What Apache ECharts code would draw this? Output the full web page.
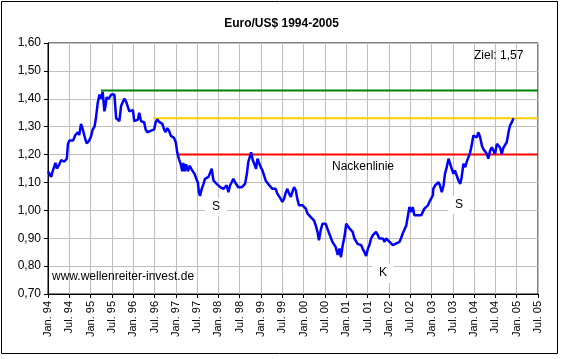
<!DOCTYPE html>
<html><head><meta charset="utf-8">
<script src="https://cdn.jsdelivr.net/npm/echarts@6/dist/echarts.min.js"></script>
<style>html,body{margin:0;padding:0;background:#fff}#c{width:563px;height:359px}</style>
</head><body><div id="c"></div>
<script>
// months since Jan 1994
var months = [0,0.9,1.3,2.1,2.5,3.2,3.7,4.1,4.6,5.3,5.6,6.0,6.5,7.0,7.4,7.7,8.4,8.8,9.3,9.8,10.5,10.9,11.6,12.1,12.6,13.1,13.5,14.0,14.5,14.9,15.4,15.9,16.2,16.5,17.1,17.8,18.2,18.7,19.2,19.6,20.1,20.6,21.0,21.5,22.0,22.4,22.9,23.4,23.9,24.3,24.8,25.3,25.7,26.2,26.7,27.1,27.5,28.0,28.5,28.9,29.4,29.9,30.3,30.8,31.3,31.7,32.2,32.7,33.1,33.6,34.1,34.6,35.0,35.5,36.0,36.4,36.9,37.4,37.8,38.1,38.5,38.9,39.4,39.9,40.4,40.8,41.3,41.8,42.2,42.5,42.8,43.3,43.8,44.2,44.7,45.2,45.6,46.1,46.6,47.0,47.5,48.0,48.5,48.9,49.4,49.9,50.3,50.8,51.3,51.7,52.2,52.7,53.2,53.6,54.1,54.6,55.0,55.5,56.0,56.4,56.9,57.2,57.7,58.1,58.6,59.0,59.4,59.9,60.4,60.9,61.3,61.8,62.3,62.7,63.2,63.7,64.1,64.6,65.1,65.5,66.0,66.5,67.0,67.4,67.9,68.4,68.8,69.3,69.8,70.2,70.7,71.2,71.7,72.1,72.6,73.1,73.5,74.0,74.5,74.9,75.4,75.9,76.3,76.8,77.3,77.8,78.2,78.7,79.2,79.6,80.1,80.6,81.0,81.6,82.1,82.5,83.0,83.5,84.0,84.4,84.9,85.4,85.8,86.3,86.8,87.2,87.7,88.2,88.6,89.1,89.6,90.1,90.5,91.0,91.5,91.9,92.4,92.9,93.3,93.8,94.3,94.8,95.2,95.7,96.2,96.6,97.1,97.6,98.0,98.5,99.0,99.4,99.9,100.4,100.9,101.3,101.8,102.3,102.7,103.2,103.7,104.1,104.6,105.1,105.5,106.0,106.5,107.0,107.4,107.9,108.4,108.5,109.0,109.5,110.0,110.4,110.9,111.4,111.8,112.3,112.8,113.2,113.7,114.2,114.6,115.1,115.6,116.1,116.5,117.0,117.5,117.9,118.4,118.9,119.3,119.8,120.3,120.8,121.2,121.7,122.2,122.6,123.1,123.6,124.0,124.5,125.0,125.4,125.9,126.4,126.9,127.3,127.8,128.3,128.7,129.2,129.7,130.1,130.6,131.1];
var eurusd = [1.14,1.12,1.14,1.17,1.15,1.165,1.18,1.18,1.175,1.185,1.237,1.25,1.255,1.25,1.26,1.27,1.28,1.27,1.31,1.29,1.255,1.24,1.25,1.265,1.29,1.30,1.33,1.385,1.415,1.40,1.425,1.355,1.375,1.405,1.40,1.415,1.42,1.415,1.33,1.325,1.32,1.375,1.38,1.40,1.39,1.385,1.355,1.36,1.36,1.32,1.315,1.325,1.35,1.32,1.325,1.315,1.29,1.28,1.275,1.285,1.29,1.29,1.315,1.326,1.317,1.32,1.31,1.29,1.28,1.295,1.285,1.267,1.267,1.26,1.243,1.207,1.183,1.165,1.14,1.17,1.14,1.165,1.14,1.16,1.148,1.153,1.13,1.112,1.10,1.064,1.052,1.077,1.095,1.113,1.113,1.12,1.125,1.149,1.107,1.113,1.095,1.095,1.083,1.083,1.077,1.083,1.09,1.065,1.09,1.10,1.113,1.10,1.095,1.083,1.09,1.083,1.09,1.095,1.13,1.173,1.179,1.208,1.179,1.167,1.149,1.185,1.179,1.155,1.143,1.137,1.107,1.10,1.09,1.083,1.077,1.071,1.077,1.06,1.053,1.042,1.03,1.042,1.065,1.077,1.06,1.048,1.065,1.083,1.071,1.042,1.018,1.012,1.018,1.024,1.006,0.988,0.982,0.976,0.97,0.964,0.946,0.923,0.893,0.929,0.952,0.958,0.952,0.934,0.917,0.911,0.887,0.881,0.869,0.84,0.863,0.832,0.875,0.905,0.952,0.958,0.935,0.94,0.923,0.899,0.893,0.88,0.887,0.875,0.863,0.851,0.836,0.863,0.875,0.899,0.911,0.911,0.923,0.911,0.899,0.905,0.899,0.887,0.899,0.899,0.887,0.881,0.875,0.875,0.881,0.881,0.887,0.899,0.917,0.923,0.946,0.976,1.012,0.994,1.012,0.982,0.982,0.982,0.988,0.982,0.988,1.006,1.012,1.018,1.03,1.042,1.054,1.077,1.089,1.095,1.101,1.089,1.065,1.089,1.131,1.155,1.185,1.179,1.149,1.131,1.143,1.125,1.107,1.095,1.119,1.167,1.155,1.173,1.179,1.208,1.232,1.268,1.274,1.262,1.28,1.262,1.232,1.22,1.214,1.202,1.185,1.214,1.226,1.226,1.202,1.238,1.238,1.226,1.202,1.226,1.232,1.244,1.28,1.304,1.315,1.33];
var tickLabels = ["Jan. 94","Jul. 94","Jan. 95","Jul. 95","Jan. 96","Jul. 96","Jan. 97","Jul. 97","Jan. 98","Jul. 98","Jan. 99","Jul. 99","Jan. 00","Jul. 00","Jan. 01","Jul. 01","Jan. 02","Jul. 02","Jan. 03","Jul. 03","Jan. 04","Jul. 04","Jan. 05","Jul. 05"];
var levelValues = [1.43, 1.33, 1.20];
var levelStarts = [14.9, 29.6, 36.9];
var levelColors = ['#008000', '#FFCC00', '#FF0000'];
var xMax = 138;

var chart = echarts.init(document.getElementById('c'), null, {renderer: 'canvas'});
var FONT = 'Liberation Sans';
var series = [];
for (var i = 0; i < levelValues.length; i++) {
  series.push({type: 'line', data: [[levelStarts[i], levelValues[i]], [xMax, levelValues[i]]],
    showSymbol: false, silent: true, lineStyle: {color: levelColors[i], width: 2}, z: 3});
}
series.push({type: 'line', data: months.map(function (m, k) { return [m, eurusd[k]]; }),
  showSymbol: false, lineStyle: {color: '#0000FF', width: 2.5}, z: 4});

chart.setOption({
  animation: false,
  backgroundColor: '#fff',
  title: {text: 'Euro/US$ 1994-2005', left: 'center', top: 13,
    textStyle: {fontFamily: FONT, fontSize: 12, fontWeight: 'bold', color: '#000'}},
  grid: {left: 48, right: 25, top: 43, bottom: 65, show: true, borderColor: '#000', borderWidth: 1, backgroundColor: '#fff'},
  xAxis: {type: 'value', min: 0, max: xMax, interval: 6,
    axisLine: {show: true, lineStyle: {color: '#000', width: 1}},
    axisTick: {show: true, length: 4, lineStyle: {color: '#000'}},
    splitLine: {show: true, lineStyle: {color: '#C0C0C0', width: 1}},
    axisLabel: {rotate: 90, margin: 7, color: '#000', fontFamily: FONT, fontSize: 11,
      formatter: function (v) { return tickLabels[Math.round(v / 6)] || ''; }}},
  yAxis: {type: 'value', min: 0.7, max: 1.6, interval: 0.1,
    axisLine: {show: true, lineStyle: {color: '#000', width: 1}},
    axisTick: {show: true, length: 4, lineStyle: {color: '#000'}},
    splitLine: {show: true, lineStyle: {color: '#C0C0C0', width: 1}},
    axisLabel: {margin: 7, color: '#000', fontFamily: FONT, fontSize: 12,
      formatter: function (v) { return v.toFixed(2).replace('.', ','); }}},
  series: series,
  graphic: [
    {type: 'rect', shape: {x: 1.5, y: 1.5, width: 556, height: 352}, style: {fill: 'none', stroke: '#000', lineWidth: 1}, z: 0, silent: true},
    {type: 'text', left: 474, top: 50, z: 10, style: {text: 'Ziel: 1,57', font: '12px "Liberation Sans"', fill: '#000'}},
    {type: 'text', left: 332, top: 161, z: 10, style: {text: 'Nackenlinie', font: '12px "Liberation Sans"', fill: '#000'}},
    {type: 'text', left: 52, top: 271, z: 10, style: {text: 'www.wellenreiter-invest.de', font: '12px "Liberation Sans"', fill: '#000'}},
    {type: 'text', left: 205, top: 198, z: 10, style: {text: 'S', font: '12px "Liberation Sans"', fill: '#000', backgroundColor: '#fff', padding: [3, 7, 3, 7]}},
    {type: 'text', left: 372, top: 264, z: 10, style: {text: 'K', font: '12px "Liberation Sans"', fill: '#000', backgroundColor: '#fff', padding: [3, 7, 4, 7]}},
    {type: 'text', left: 448, top: 196, z: 10, style: {text: 'S', font: '12px "Liberation Sans"', fill: '#000', backgroundColor: '#fff', padding: [3, 7, 3, 7]}}
  ]
});
</script></body></html>
